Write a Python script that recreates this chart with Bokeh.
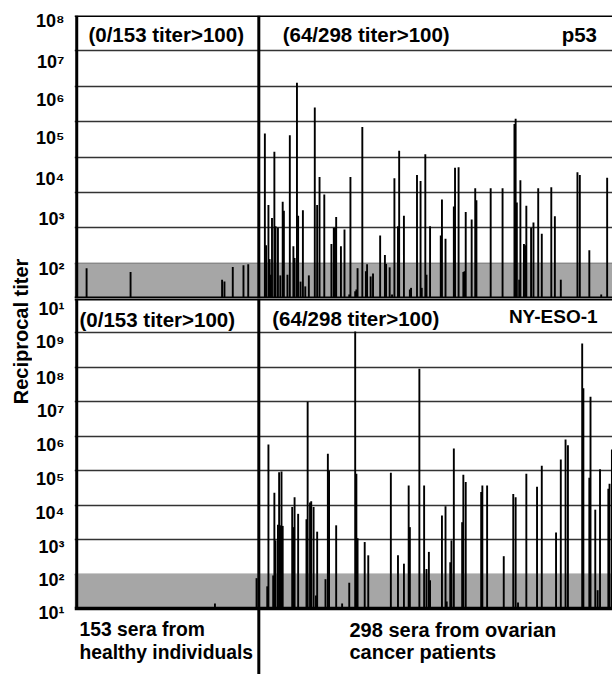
import math
from bokeh.plotting import figure
from bokeh.models import (Range1d, LinearScale, FixedTicker, Span, BoxAnnotation,
                          Label, ColumnDataSource)
from bokeh.layouts import row, column
from bokeh.embed import file_html
from bokeh.resources import INLINE

# ---------------- data ----------------
N_HEALTHY = 153
N_CANCER = 298

# p53 (top panel): sample number within group, reciprocal titer
p53_healthy_idx = [8, 45, 122, 124, 131, 140, 144]
p53_healthy_titer = [72, 56, 34, 30, 78, 87, 93]

p53_cancer_idx = [5, 6, 8, 9, 10, 11, 13, 14, 16, 18, 20, 21, 24, 26, 29, 30, 32, 33, 35, 37,
                  39, 42, 47, 49, 51, 55, 61, 63, 64, 65, 69, 72, 76, 77, 81, 82, 83, 87, 90, 91,
                  94, 96, 102, 106, 107, 110, 112, 114, 117, 118, 122, 127, 128, 133, 136, 137, 140, 141, 144, 153,
                  154, 157, 164, 165, 168, 172, 173, 174, 179, 182, 183, 195, 205, 215, 216, 217, 219, 220, 223, 224,
                  225, 229, 231, 235, 238, 246, 249, 254, 268, 270, 278, 288, 293]
p53_cancer_titer = [4.6e5, 320, 4400, 130, 47, 1900, 1.4e5, 1100, 1000, 45, 5400, 3000, 47, 4.1e5, 300, 140, 1.26e7, 2200, 30, 3100,
                    22, 45, 2.5e6, 4400, 2.7e4, 8700, 350, 1000, 1000, 2000, 300, 890, 13, 2.7e4, 16, 18, 72, 7.1e5, 59, 93,
                    42, 51, 600, 170, 95, 76, 13, 2.5e4, 1100, 1.5e5, 2200, 18, 20, 3.1e4, 2.1e4, 20, 1.2e5, 47, 1100, 600,
                    6300, 490, 4000, 5.0e4, 5.1e4, 56, 59, 2800, 1700, 1.3e4, 6000, 1.3e4, 1.3e4, 8.5e5, 1.2e6, 5200, 34, 2.2e4, 350, 320,
                    4200, 1000, 1400, 1.3e4, 680, 1.4e4, 2100, 34, 3.7e4, 3.1e4, 230, 13, 2.6e4]

# NY-ESO-1 (bottom panel)
eso_healthy_idx = [116, 151]
eso_healthy_titer = [14, 76]

eso_cancer_idx = [7, 8, 12, 13, 14, 16, 17, 18, 19, 20, 28, 29, 30, 33, 40, 41, 43, 44, 46, 48,
                  49, 56, 58, 59, 65, 70, 76, 81, 82, 83, 89, 92, 111, 117, 122, 126, 127, 135, 139, 141,
                  143, 144, 154, 157, 158, 161, 162, 164, 171, 172, 174, 187, 188, 192, 206, 214, 216, 218, 225, 234,
                  238, 250, 254, 258, 260, 272, 273, 278, 279, 283, 285, 287, 294, 295, 297]
eso_cancer_titer = [44, 5.8e5, 91, 2.3e4, 950, 2700, 9.1e4, 2600, 9.5e4, 2500, 8900, 2300, 1.7e4, 5600, 3900, 1.0e7, 1.2e4, 1.3e4, 8900, 24,
                    1700, 71, 3.1e5, 1.0e5, 2600, 14, 56, 1.1e9, 8.1e4, 1100, 850, 350, 8.7e4, 350, 200, 3.7e4, 2300, 9.1e7, 3.7e4, 140,
                    440, 66, 5000, 9300, 16, 220, 950, 4.4e5, 3200, 7.6e4, 4.7e4, 2.4e4, 3.7e4, 3.7e4, 330, 2.1e4, 1.7e4, 15, 8.1e4, 3.4e4,
                    1.4e5, 1600, 2.1e5, 8.1e5, 5.5e5, 4.9e8, 2.5e7, 6.2e4, 1.4e7, 7400, 34, 1.1e5, 3.0e4, 4.2e4, 4.1e5]

sup = {1: "¹", 2: "²", 3: "³", 4: "⁴", 5: "⁵", 6: "⁶", 7: "⁷", 8: "⁸", 9: "⁹"}
top_tick_exps = [8, 7, 6, 5, 4, 3, 2]
bot_tick_exps = [1, 9, 8, 7, 6, 5, 4, 3, 2, 1]

# ---------------- layout constants (page pixels) ----------------
W, H = 612, 674
LEFT_W = 32
FRAME_X0 = 72
DATA_X0 = 74.0
S = (W - DATA_X0) / (N_HEALTHY + N_CANCER)      # px per serum
TOP_Y0, SEP, BASE2 = 15, 298, 608
DEC1 = (SEP - TOP_Y0) / 8.0
DEC2 = (BASE2 - SEP) / 9.0
TXT_SHIFT = -7.5   # baseline correction for label placement

x_lo = (FRAME_X0 - DATA_X0) / S - 0.5
x_hi = (W - DATA_X0) / S - 0.5

FONT = "Liberation Sans"
BAR_W = 1.6
GRID_COLOR = "#333333"
SHADE = "#a6a6a6"

# label positions (page y) for the axis texts
top_label_y = [20, 61, 99, 137, 178, 218, 268]
bot_label_y = [304.5, 341.7, 377, 410, 444, 478, 512, 546, 579, 612]


def base_fig(height, y_start, y_end, mbt, py_range):
    p = figure(width=W - LEFT_W, height=height, x_range=Range1d(x_lo, x_hi),
               y_range=Range1d(y_start, y_end), y_axis_type="log",
               output_backend="svg", toolbar_location=None,
               min_border_left=FRAME_X0 - LEFT_W, min_border_right=0,
               min_border_top=mbt, min_border_bottom=0,
               x_axis_location=None, outline_line_color=None)
    p.extra_x_ranges = {"px": Range1d(FRAME_X0, W)}
    p.extra_y_ranges = {"py": py_range}
    p.extra_x_scales = {"px": LinearScale()}
    p.extra_y_scales = {"py": LinearScale()}
    p.xgrid.visible = False
    p.ygrid.grid_line_color = GRID_COLOR
    p.ygrid.grid_line_width = 1.6
    ax = p.yaxis[0]
    ax.axis_line_color = None
    ax.major_tick_line_color = None
    ax.minor_tick_line_color = None
    ax.major_label_standoff = 4
    ax.major_label_text_font = FONT
    ax.major_label_text_font_style = "bold"
    ax.major_label_text_font_size = "18px"
    ax.major_label_text_color = "black"
    p.add_layout(BoxAnnotation(bottom=10, top=100, fill_color=SHADE, fill_alpha=1.0,
                               line_color=None, level="underlay"))
    return p


def add_text(p, x, y, txt, size="20px"):
    p.add_layout(Label(x=x, y=y + TXT_SHIFT, x_range_name="px", y_range_name="py", text=txt,
                       text_font=FONT, text_font_style="bold", text_font_size=size,
                       text_color="black", text_align="left", text_baseline="alphabetic"))


# ---------------- top panel: p53 ----------------
fig1 = base_fig(SEP, 10, 1e9, TOP_Y0, Range1d(SEP, TOP_Y0))
t1 = [10 ** (9 - (y - TOP_Y0) / DEC1) for y in top_label_y]
fig1.yaxis[0].ticker = FixedTicker(ticks=t1)
fig1.yaxis[0].major_label_overrides = {t: "10" + sup[e] for t, e in zip(t1, top_tick_exps)}
fig1.ygrid.ticker = FixedTicker(ticks=[10 ** k for k in range(2, 9)])

src1 = ColumnDataSource(dict(x=p53_healthy_idx + [N_HEALTHY + i for i in p53_cancer_idx],
                             top=p53_healthy_titer + p53_cancer_titer))
fig1.vbar(x="x", top="top", bottom=10, width=BAR_W, source=src1,
          fill_color="black", line_color=None)

fig1.add_layout(Span(location=1e9, dimension="width", line_color="black", line_width=3))
fig1.add_layout(Span(location=10, dimension="width", line_color="black", line_width=4))
fig1.add_layout(Span(location=-0.3, dimension="height", line_color="black", line_width=3))
fig1.add_layout(Span(location=N_HEALTHY - 0.1, dimension="height", line_color="black", line_width=3))

add_text(fig1, 86, 41.5, "(0/153 titer>100)", size="20.5px")
add_text(fig1, 281, 41, "(64/298 titer>100)", size="20.5px")
add_text(fig1, 561, 41, "p53", size="20.5px")

# ---------------- bottom panel: NY-ESO-1 ----------------
y2_start = 10 ** (1 - (H - BASE2) / DEC2)
fig2 = base_fig(H - SEP, y2_start, 1e10, 0, Range1d(H, SEP))
t2 = [10 ** (10 - (y - SEP) / DEC2) for y in bot_label_y]
fig2.yaxis[0].ticker = FixedTicker(ticks=t2)
fig2.yaxis[0].major_label_overrides = {t: "10" + sup[e] for t, e in zip(t2, bot_tick_exps)}
fig2.ygrid.ticker = FixedTicker(ticks=[10 ** k for k in range(2, 10)])

src2 = ColumnDataSource(dict(x=eso_healthy_idx + [N_HEALTHY + i for i in eso_cancer_idx],
                             top=eso_healthy_titer + eso_cancer_titer))
fig2.vbar(x="x", top="top", bottom=10, width=BAR_W, source=src2,
          fill_color="black", line_color=None)

fig2.add_layout(Span(location=1e10, dimension="width", line_color="black", line_width=4))
fig2.add_layout(Span(location=10, dimension="width", line_color="black", line_width=3.5))
fig2.segment(x0=[-0.3], y0=[10], x1=[-0.3], y1=[1e10], line_color="black", line_width=3)
fig2.add_layout(Span(location=N_HEALTHY - 0.1, dimension="height", line_color="black", line_width=3))

add_text(fig2, 77, 326, "(0/153 titer>100)", size="20.5px")
add_text(fig2, 270.5, 325, "(64/298 titer>100)", size="20.5px")
add_text(fig2, 508, 323.3, "NY-ESO-1", size="19px")
add_text(fig2, 77, 636.7, "153 sera from", size="19.3px")
add_text(fig2, 77, 659, "healthy individuals", size="19.3px")
add_text(fig2, 348, 636.7, "298 sera from ovarian", size="20px")
add_text(fig2, 348, 659, "cancer patients", size="20px")

# ---------------- left strip with the axis title ----------------
figL = figure(width=LEFT_W, height=H, x_range=Range1d(0, LEFT_W), y_range=Range1d(0, H),
              output_backend="svg", toolbar_location=None, min_border=0,
              x_axis_location=None, y_axis_location=None, outline_line_color=None)
figL.grid.visible = False
figL.add_layout(Label(x=20, y=H - 331, text="Reciprocal titer", angle=math.pi / 2,
                      text_align="center", text_baseline="middle", text_font=FONT,
                      text_font_style="bold", text_font_size="20px", text_color="black"))

layout = row(figL, column(fig1, fig2))
open("out.html", "w").write(file_html(layout, INLINE))
